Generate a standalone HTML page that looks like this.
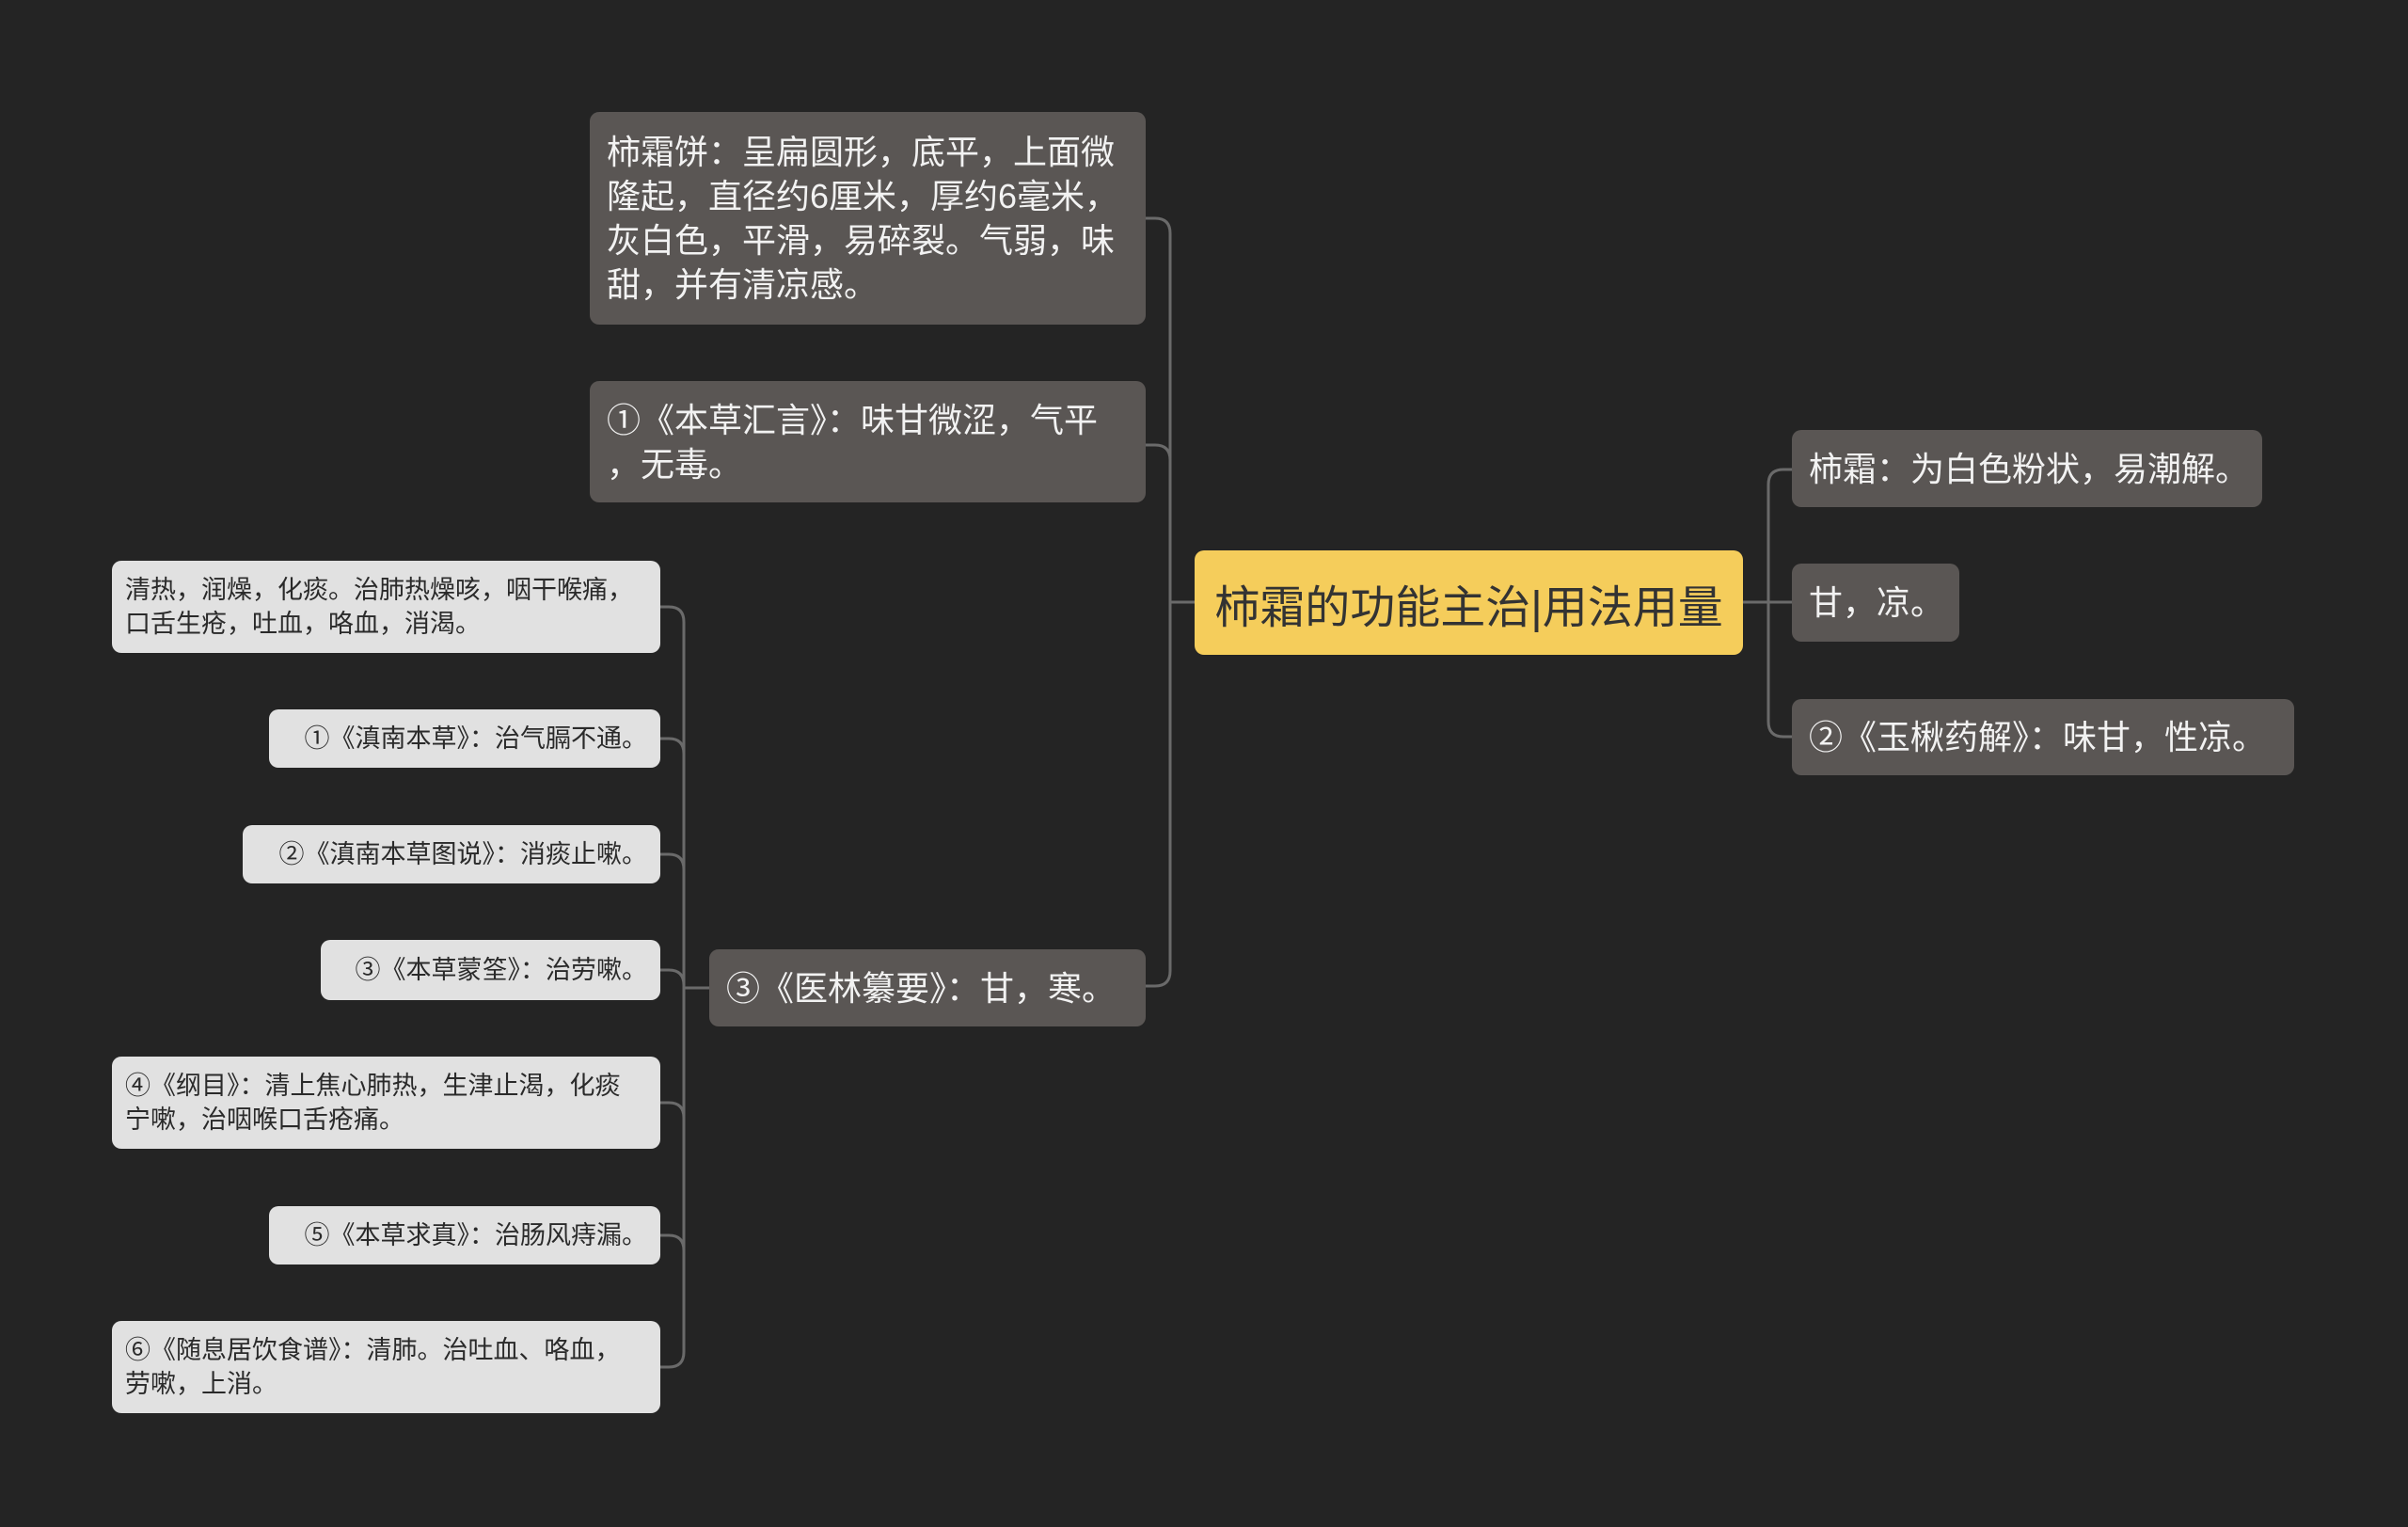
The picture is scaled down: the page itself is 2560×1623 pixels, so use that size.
<!DOCTYPE html>
<html><head><meta charset="utf-8"><style>
html,body{margin:0;padding:0}
body{width:2560px;height:1623px;background:#242424;position:relative;overflow:hidden;font-family:"Liberation Sans","Noto Sans CJK SC",sans-serif}
.n{position:absolute;box-sizing:border-box;border-radius:10px;display:flex;align-items:center;white-space:nowrap}
.d{background:#5a5654;color:#f2f2f2;font-size:36px;line-height:47px;padding:0 18px}
.l{background:#e1e1e1;color:#2a2a2a;font-size:27px;line-height:36px;padding:0 14px;justify-content:flex-end}
.l.w{justify-content:flex-start}
.c{background:#f5cd5b;color:#333;font-size:48px;padding:0 22px;justify-content:center}
svg{position:absolute;left:0;top:0}
</style></head><body>
<svg width="2560" height="1623" fill="none" stroke="#6a6a6a" stroke-width="3">
<path d="M1270 640 H1244"/>
<path d="M1218 232 H1228 Q1244 232 1244 248 V1032 Q1244 1048 1228 1048 H1218"/>
<path d="M1218 473 H1228 Q1244 473 1244 489"/>
<path d="M1853 640 H1880"/>
<path d="M1905 499 H1896 Q1880 499 1880 515 V767 Q1880 783 1896 783 H1905"/>
<path d="M1880 640 H1905"/>
<path d="M754 1050 H727"/>
<path d="M702 645 H711 Q727 645 727 661 V1437 Q727 1453 711 1453 H702"/>
<path d="M702 785 H711 Q727 785 727 801"/>
<path d="M702 908 H711 Q727 908 727 924"/>
<path d="M702 1031 H711 Q727 1031 727 1047"/>
<path d="M702 1172 H711 Q727 1172 727 1188"/>
<path d="M702 1313 H711 Q727 1313 727 1329"/>
</svg>
<div class="n d" style="left:627px;top:119px;width:591px;height:226px"><div>柿霜饼：呈扁圆形，底平，上面微<br>隆起，直径约6厘米，厚约6毫米，<br>灰白色，平滑，易碎裂。气弱，味<br>甜，并有清凉感。</div></div>
<div class="n d" style="left:627px;top:405px;width:591px;height:129px"><div>①《本草汇言》：味甘微涩，气平<br>，无毒。</div></div>
<div class="n c" style="left:1270px;top:585px;width:583px;height:111px">柿霜的功能主治|用法用量</div>
<div class="n d" style="left:1905px;top:457px;width:500px;height:82px">柿霜：为白色粉状，易潮解。</div>
<div class="n d" style="left:1905px;top:599px;width:178px;height:83px">甘，凉。</div>
<div class="n d" style="left:1905px;top:743px;width:534px;height:81px">②《玉楸药解》：味甘，性凉。</div>
<div class="n d" style="left:754px;top:1009px;width:464px;height:82px">③《医林纂要》：甘，寒。</div>
<div class="n l w" style="left:119px;top:596px;width:583px;height:98px"><div>清热，润燥，化痰。治肺热燥咳，咽干喉痛，<br>口舌生疮，吐血，咯血，消渴。</div></div>
<div class="n l" style="left:286px;top:754px;width:416px;height:62px">①《滇南本草》：治气膈不通。</div>
<div class="n l" style="left:258px;top:877px;width:444px;height:62px">②《滇南本草图说》：消痰止嗽。</div>
<div class="n l" style="left:341px;top:999px;width:361px;height:64px">③《本草蒙筌》：治劳嗽。</div>
<div class="n l w" style="left:119px;top:1123px;width:583px;height:98px"><div>④《纲目》：清上焦心肺热，生津止渴，化痰<br>宁嗽，治咽喉口舌疮痛。</div></div>
<div class="n l" style="left:286px;top:1282px;width:416px;height:62px">⑤《本草求真》：治肠风痔漏。</div>
<div class="n l w" style="left:119px;top:1404px;width:583px;height:98px"><div>⑥《随息居饮食谱》：清肺。治吐血、咯血，<br>劳嗽，上消。</div></div>
</body></html>
